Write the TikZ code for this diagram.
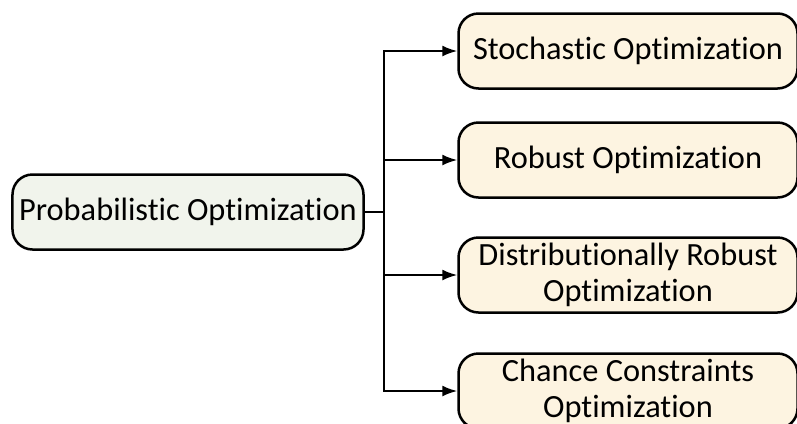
\documentclass[tikz,border=0pt]{standalone}
\usepackage{fontspec}
\setmainfont{Carlito}[Ligatures=NoCommon]
\usetikzlibrary{arrows.meta}
\definecolor{probfill}{HTML}{F1F4EC}
\definecolor{methfill}{HTML}{FDF4E1}
\begin{document}
\begin{tikzpicture}[x=1bp,y=-1bp,
 probbox/.style={draw,line width=2.5bp,rounded corners=20bp,fill=probfill,minimum width=351bp,minimum height=75bp,inner sep=0pt,font=\fontsize{32.5}{36}\selectfont},
 methbox/.style={draw,line width=2.5bp,rounded corners=20bp,fill=methfill,minimum width=339bp,minimum height=75bp,inner sep=0pt,align=center,font=\fontsize{32.5}{36}\selectfont},
 link/.style={line width=2bp,-{Latex[length=15bp,width=11bp]}}]
 \useasboundingbox (0,0) rectangle (797,423);
 \node[probbox] (prob) at (188,212) {Probabilistic Optimization};
 %
 \node[methbox] (so) at (628,51) {Stochastic Optimization};
 \node[methbox] (ro) at (628,160) {Robust Optimization};
 \node[methbox] (dro) at (628,275) {Distributionally Robust\\Optimization};
 \node[methbox] (cco) at (628,391) {Chance Constraints\\Optimization};
 %
 \coordinate (split) at (384,212);
 \draw[line width=2bp] (prob.east) -- (split);
 \foreach \m in {so,ro,dro,cco}
  \draw[link] (split) |- (\m.west);
\end{tikzpicture}
\end{document}
